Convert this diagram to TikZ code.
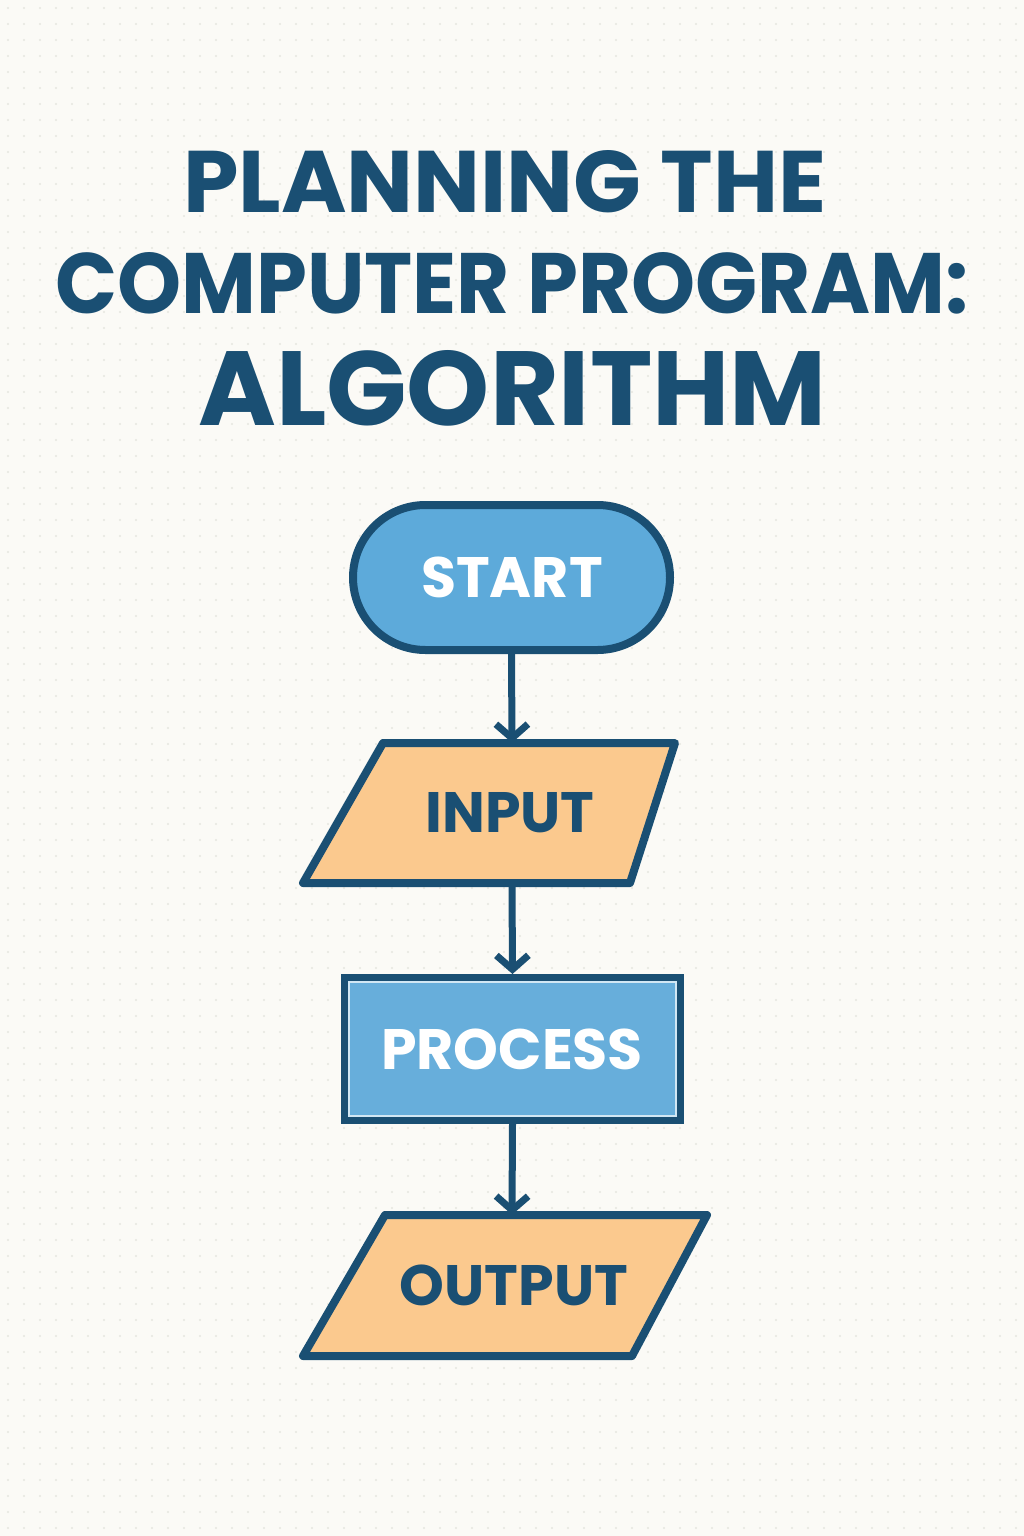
\documentclass[tikz,border=0pt]{standalone}
\usepackage{fontspec}
\setmainfont{Poppins}
\usetikzlibrary{shapes.misc,arrows.meta}
\definecolor{ink}{HTML}{1A4F73}
\definecolor{bluef}{HTML}{5DAADA}
\definecolor{bluep}{HTML}{67AEDB}
\definecolor{orangef}{HTML}{FBC98E}
\definecolor{bg}{HTML}{FBFAF6}
\definecolor{dot}{HTML}{E6E6E0}
\begin{document}
\begin{tikzpicture}[x=1pt,y=-1pt,
  box/.style={draw=ink,line width=8pt,inner sep=0pt},
  pshape/.style={draw=ink,line width=8pt,line join=round,fill=orangef},
  lbl/.style={font=\bfseries\fontsize{57}{57}\selectfont,inner sep=0pt},
  conn/.style={draw=ink,line width=7pt,-{Straight Barb[length=14pt,width=32pt,line width=7pt]}},
  ttl/.style={text=ink,inner sep=0pt,anchor=north west}]
\useasboundingbox (0,0) rectangle (1024,1536);
\fill[bg] (0,0) rectangle (1024,1536);
\foreach \i in {0,...,63}{\foreach \j in {0,...,95}{\fill[dot] (8+16*\i,8+16*\j) circle (1.2pt);}}
\node[ttl] (t1) at (183,150) {\resizebox{643pt}{62pt}{\bfseries PLANNING THE}};
\node[ttl] (t2) at (55,252) {\resizebox{913pt}{61pt}{\bfseries COMPUTER PROGRAM:}};
\node[ttl] (t3) at (198,350) {\resizebox{628pt}{75pt}{\bfseries ALGORITHM}};
\node[box,rounded rectangle,fill=bluef,minimum width=317pt,minimum height=145pt] (start) at (511.5,577.5) {};
\node[lbl,text=white] (startl) at (512,577) {START};
% input parallelogram
\path[pshape] (383,743) -- (675,743) -- (630,883) -- (303,883) -- cycle;
\node[inner sep=0pt,minimum width=200pt,minimum height=140pt] (input) at (512,813) {};
\node[lbl,text=ink] (inputl) at (510,813) {INPUT};
\node[box,rectangle,fill=bluep,minimum width=335pt,minimum height=142pt] (proc) at (512.5,1049) {};
\draw[white!70!bluep,line width=2pt] ([shift={(8,-8)}]proc.south west) rectangle ([shift={(-8,8)}]proc.north east);
\node[lbl,text=white] (procl) at (512,1049) {PROCESS};
% output parallelogram
\path[pshape] (385,1215) -- (707,1215) -- (632,1356) -- (303,1356) -- cycle;
\node[inner sep=0pt,minimum width=200pt,minimum height=141pt] (output) at (512,1285.5) {};
\node[lbl,text=ink] (outputl) at (514,1285) {OUTPUT};
\draw[conn] (start.south) -- (input.north);
\draw[conn] (input.south) -- (proc.north);
\draw[conn] (proc.south) -- (output.north);
\end{tikzpicture}
\end{document}
